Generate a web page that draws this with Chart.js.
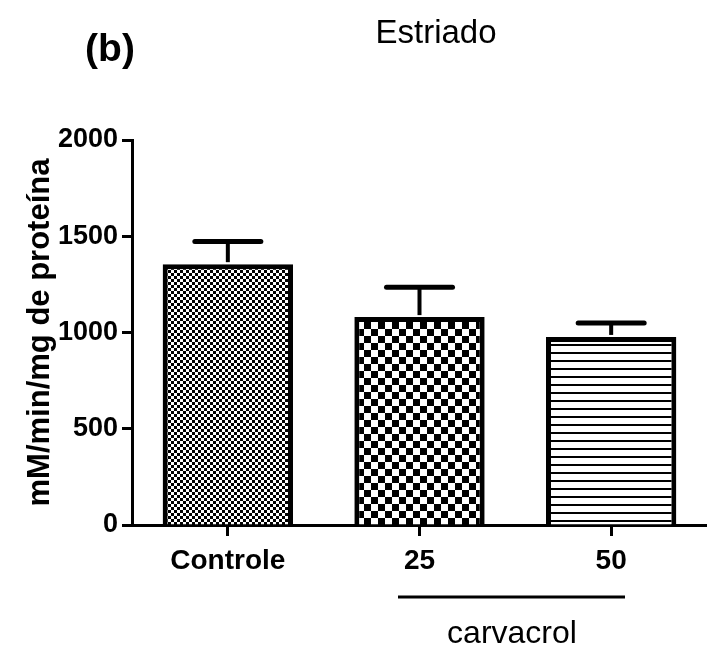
<!DOCTYPE html>
<html>
<head>
<meta charset="utf-8">
<script src="https://cdn.jsdelivr.net/npm/chart.js@4"></script>
<style>
  html, body { margin: 0; padding: 0; background: #fff; }
  #wrap { width: 707px; height: 648px; }
</style>
</head>
<body>
<div id="wrap"><canvas id="myChart" width="707" height="648"></canvas></div>
<script>
// data
const categories = ['Controle', '25', '50'];
const means = [1355, 1080, 977];
const errors = [118, 155, 72];
const yTicks = [0, 500, 1000, 1500, 2000];

// fill patterns
function makePattern(kind) {
    const c = document.createElement('canvas');
    const g = c.getContext('2d');
    if (kind === 'fine' || kind === 'coarse') {
        const s = kind === 'fine' ? 3 : 7;
        c.width = s * 2; c.height = s * 2;
        g.fillStyle = '#fff';
        g.fillRect(0, 0, c.width, c.height);
        g.fillStyle = '#000';
        g.fillRect(0, 0, s, s);
        g.fillRect(s, s, s, s);
    } else {
        c.width = 8; c.height = 8;
        g.fillStyle = '#fff';
        g.fillRect(0, 0, 8, 8);
        g.fillStyle = '#000';
        g.fillRect(0, 0, 8, 2);
    }
    return g.createPattern(c, 'repeat');
}
const fills = [makePattern('fine'), makePattern('coarse'), makePattern('lines')];

// error bars (upper only) and extra labels
const extras = {
    id: 'extras',
    afterDatasetsDraw(chart) {
        const ctx = chart.ctx;
        const y = chart.scales.y;
        const meta = chart.getDatasetMeta(0);
        ctx.save();
        ctx.strokeStyle = '#000';
        meta.data.forEach((bar, i) => {
            const top = y.getPixelForValue(means[i]);
            const errY = y.getPixelForValue(means[i] + errors[i]);
            ctx.lineWidth = 4;
            ctx.lineCap = 'butt';
            ctx.beginPath();
            ctx.moveTo(bar.x, top - 2);
            ctx.lineTo(bar.x, errY);
            ctx.stroke();
            ctx.lineWidth = 5;
            ctx.lineCap = 'round';
            ctx.beginPath();
            ctx.moveTo(bar.x - 33, errY);
            ctx.lineTo(bar.x + 33, errY);
            ctx.stroke();
        });
        ctx.restore();
    },
    afterDraw(chart) {
        const ctx = chart.ctx;
        ctx.save();
        ctx.fillStyle = '#000';
        ctx.textAlign = 'center';
        ctx.textBaseline = 'alphabetic';
        ctx.font = 'bold 39px "Liberation Sans", Arial';
        ctx.fillText('(b)', 110, 61);
        ctx.font = '33px "Liberation Sans", Arial';
        ctx.fillText('Estriado', 436, 43);
        ctx.font = '32px "Liberation Sans", Arial';
        ctx.fillText('carvacrol', 512, 643);
        ctx.strokeStyle = '#000';
        ctx.lineWidth = 3;
        ctx.beginPath();
        ctx.moveTo(398, 597);
        ctx.lineTo(625, 597);
        ctx.stroke();
        ctx.restore();
    }
};

const ctx = document.getElementById('myChart');

new Chart(ctx, {
    type: 'bar',
    data: {
        labels: categories,
        datasets: [{
            data: means,
            backgroundColor: fills,
            borderColor: '#000',
            borderWidth: 5,
            categoryPercentage: 1,
            barPercentage: 0.68
        }]
    },
    options: {
        responsive: false,
        animation: false,
        devicePixelRatio: 1,
        layout: { padding: { top: 140, right: 0, bottom: 0, left: 0 } },
        plugins: {
            legend: { display: false },
            tooltip: { enabled: false }
        },
        scales: {
            x: {
                afterFit: (s) => { s.height = 123; },
                grid: {
                    offset: false,
                    drawOnChartArea: false,
                    drawTicks: true,
                    tickLength: 11,
                    tickWidth: 3,
                    color: '#000'
                },
                border: { color: '#000', width: 3 },
                ticks: {
                    color: '#000',
                    padding: 8,
                    font: { family: '"Liberation Sans", Arial', size: 28, weight: 'bold' }
                }
            },
            y: {
                min: 0,
                max: 2000,
                afterFit: (s) => { s.width = 132; },
                afterBuildTicks: (s) => { s.ticks = yTicks.map(v => ({ value: v })); },
                grid: {
                    drawOnChartArea: false,
                    drawTicks: true,
                    tickLength: 10,
                    tickWidth: 3,
                    color: '#000'
                },
                border: { color: '#000', width: 3 },
                ticks: {
                    color: '#000',
                    padding: 4,
                    callback: (v) => String(v),
                    font: { family: '"Liberation Sans", Arial', size: 27, weight: 'bold' }
                },
                title: {
                    display: true,
                    text: 'mM/min/mg de proteína',
                    color: '#000',
                    padding: { top: 22, bottom: 0 },
                    font: { family: '"Liberation Sans", Arial', size: 31, weight: 'bold' }
                }
            }
        }
    },
    plugins: [extras]
});
</script>
</body>
</html>
